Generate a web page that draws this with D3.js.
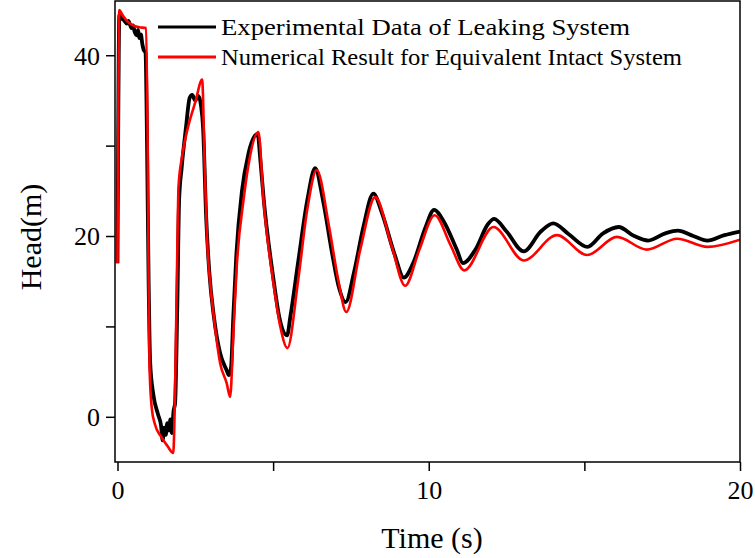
<!DOCTYPE html>
<html>
<head>
<meta charset="utf-8">
<script src="https://cdn.jsdelivr.net/npm/d3@7"></script>
<style>
  body { margin: 0; background: #fff; }
  svg text { font-family: "Liberation Serif", "Times New Roman", serif; fill: #000; }
</style>
</head>
<body>
<svg id="chart" width="755" height="558"></svg>
<script>
// experimental data of leaking system: [time (s), head (m)]
const experimental = [
  [0, 17], [0.02, 30], [0.06, 44.5], [0.1, 44.2], [0.2, 43.9], [0.3, 43.5], [0.35, 43.8],
  [0.45, 43.0], [0.5, 43.3], [0.55, 42.6], [0.62, 42.2], [0.66, 42.8], [0.7, 41.9],
  [0.75, 42.3], [0.8, 41.2], [0.84, 40.6], [0.9, 40.3], [0.95, 30], [1.0, 15], [1.05, 6],
  [1.15, 2.5], [1.3, 0.3], [1.4, -1], [1.45, -2.6], [1.5, -1.2], [1.55, -2.0], [1.6, -0.7],
  [1.65, -1.5], [1.7, -0.3], [1.75, -1.8], [1.8, 0.6], [1.85, 1.5], [1.92, 12], [1.98, 24],
  [2.06, 27.5], [2.2, 32], [2.32, 35.3], [2.4, 35.6], [2.5, 35.0], [2.6, 35.5], [2.68, 34.5],
  [2.75, 32], [2.85, 22], [2.95, 16], [3.1, 11], [3.3, 7], [3.5, 5.2], [3.58, 4.6],
  [3.65, 5.5], [3.72, 11], [3.82, 18], [4.0, 25], [4.2, 29], [4.5, 31.3], [4.6, 28],
  [4.7, 24], [5.0, 15.5], [5.2, 11], [5.45, 9.0], [5.55, 11], [5.8, 17], [6.1, 24],
  [6.35, 27.5], [6.6, 24], [6.9, 18], [7.1, 14.5], [7.33, 12.7], [7.6, 16], [7.9, 21],
  [8.22, 24.7], [8.5, 22.5], [8.9, 18], [9.2, 15.4], [9.5, 17], [9.9, 21], [10.17, 22.9],
  [10.5, 21.5], [10.9, 18.5], [11.1, 17.0], [11.5, 18.5], [11.9, 21.3], [12.1, 21.9],
  [12.5, 20.5], [13.05, 18.3], [13.6, 20.5], [14.0, 21.4], [14.5, 20.2], [15.1, 18.8],
  [15.6, 20.3], [16.1, 21.0], [16.6, 20.0], [17.05, 19.5], [17.6, 20.3], [18.0, 20.6],
  [18.5, 20.0], [18.95, 19.5], [19.5, 20.1], [20, 20.5]
]

// numerical result for equivalent intact system
const numerical = [
  [0, 17], [0.02, 30], [0.06, 45.0], [0.15, 44.5], [0.3, 43.8], [0.5, 43.3], [0.7, 43.1],
  [0.92, 43.0], [0.97, 30], [1.0, 15], [1.03, 5.5], [1.1, 1], [1.2, -0.8], [1.4, -2.2],
  [1.6, -3.2], [1.79, -4.0], [1.86, 5], [1.92, 18], [1.96, 25.4], [2.07, 28.7], [2.27, 32.1],
  [2.5, 34.8], [2.72, 37.3], [2.8, 28], [2.88, 19.5], [2.97, 15.1], [3.08, 11.5], [3.3, 5.9],
  [3.51, 3.7], [3.62, 2.2], [3.72, 9], [3.83, 16.6], [4.05, 24], [4.2, 27.7], [4.53, 31.5],
  [4.69, 24], [5.01, 14.8], [5.23, 10], [5.46, 7.6], [5.8, 15], [6.1, 23], [6.4, 27.3],
  [6.8, 21], [7.1, 15], [7.35, 11.6], [7.8, 18.5], [8.28, 24.3], [8.8, 19], [9.24, 14.5],
  [9.7, 18.5], [10.19, 22.3], [10.7, 19], [11.14, 16.2], [12.08, 21.0], [13.05, 17.3],
  [14.12, 20.1], [15.09, 17.9], [16.05, 19.9], [17.0, 18.5], [17.98, 19.7], [18.95, 18.8],
  [20, 19.6]
]

const seriesNames = ["Experimental Data of Leaking System", "Numerical Result for Equivalent Intact System"]
const xTicks = [0, 5, 10, 15, 20]
const xLabels = [0, 10, 20]
const yTicks = [0, 10, 20, 30, 40]
const yLabels = [0, 20, 40]

const margin = { top: 1, right: 15, bottom: 96, left: 115 }
const width = 755
const height = 558
const svg = d3.select("#chart")

const x = d3.scaleLinear().domain([-0.08, 20]).range([margin.left, width - margin.right])
const y = d3.scaleLinear().domain([-5, 46]).range([height - margin.bottom, margin.top])

// clip curves to the plot box
svg.append("clipPath").attr("id", "plot-clip")
  .append("rect")
  .attr("x", margin.left).attr("y", margin.top)
  .attr("width", width - margin.left - margin.right)
  .attr("height", height - margin.top - margin.bottom)

const line = d3.line()
  .x((d) => x(d[0]))
  .y((d) => y(d[1]))
  .curve(d3.curveMonotoneX)

const plot = svg.append("g").attr("clip-path", "url(#plot-clip)")
plot.append("path")
  .datum(experimental)
  .attr("fill", "none")
  .attr("stroke", "#000")
  .attr("stroke-width", 3.8)
  .attr("stroke-linejoin", "round")
  .attr("d", line)
plot.append("path")
  .datum(numerical)
  .attr("fill", "none")
  .attr("stroke", "#ff0000")
  .attr("stroke-width", 2.6)
  .attr("stroke-linejoin", "round")
  .attr("d", line)

// axes
const xAxis = svg.append("g")
  .attr("transform", `translate(0,${height - margin.bottom})`)
  .call(d3.axisBottom(x).tickValues(xTicks).tickSize(9).tickSizeOuter(0)
    .tickFormat((d) => (xLabels.includes(d) ? d : "")))
const yAxis = svg.append("g")
  .attr("transform", `translate(${margin.left},0)`)
  .call(d3.axisLeft(y).tickValues(yTicks).tickSize(9).tickSizeOuter(0)
    .tickFormat((d) => (yLabels.includes(d) ? d : "")))

for (const ax of [xAxis, yAxis]) {
  ax.select(".domain").remove()
  ax.selectAll(".tick line").attr("stroke", "#000").attr("stroke-width", 1.5)
  ax.selectAll(".tick text").attr("font-size", 26).attr("font-family", "Liberation Serif")
}
xAxis.selectAll(".tick text").attr("dy", "0").attr("y", 37)
yAxis.selectAll(".tick text").attr("x", -15).attr("dy", "0.34em")

// plot frame
svg.append("rect")
  .attr("x", margin.left).attr("y", margin.top)
  .attr("width", width - margin.left - margin.right)
  .attr("height", height - margin.top - margin.bottom)
  .attr("fill", "none")
  .attr("stroke", "#000")
  .attr("stroke-width", 1.5)

// axis titles
svg.append("text")
  .attr("x", 432).attr("y", 548)
  .attr("text-anchor", "middle")
  .attr("font-size", 30)
  .text("Time (s)")
svg.append("text")
  .attr("transform", "translate(41,237) rotate(-90)")
  .attr("text-anchor", "middle")
  .attr("font-size", 30)
  .text("Head(m)")

// legend
const legendColors = ["#000", "#ff0000"]
const legendWidths = [409, 461]
const legend = svg.append("g")
seriesNames.forEach((name, i) => {
  const ly = 27 + i * 30
  legend.append("line")
    .attr("x1", 158).attr("x2", 216)
    .attr("y1", ly).attr("y2", ly)
    .attr("stroke", legendColors[i])
    .attr("stroke-width", 3)
  legend.append("text")
    .attr("x", 221).attr("y", ly + 8)
    .attr("font-size", 23.5)
    .attr("textLength", legendWidths[i])
    .attr("lengthAdjust", "spacingAndGlyphs")
    .text(name)
})
</script>
</body>
</html>
